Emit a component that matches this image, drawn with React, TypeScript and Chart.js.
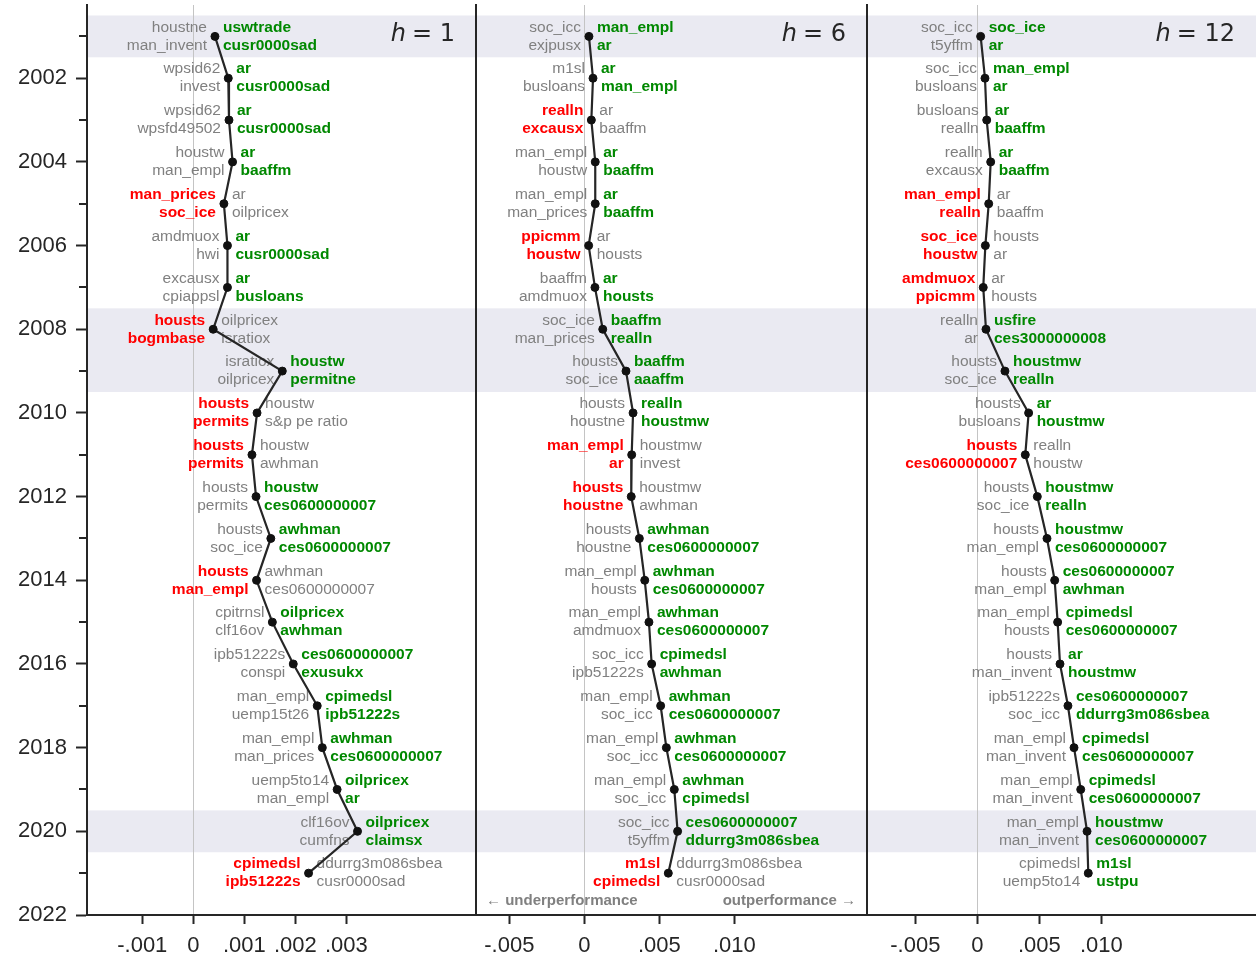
import React, { useEffect, useRef } from "react";
import { Chart, registerables } from "chart.js";

Chart.register(...registerables);

// ---------------- data ----------------
const years = [2001, 2002, 2003, 2004, 2005, 2006, 2007, 2008, 2009, 2010, 2011, 2012, 2013, 2014, 2015, 2016, 2017, 2018, 2019, 2020, 2021];
const yTickYears = [2001, 2002, 2003, 2004, 2005, 2006, 2007, 2008, 2009, 2010, 2011, 2012, 2013, 2014, 2015, 2016, 2017, 2018, 2019, 2020, 2021, 2022];
const yTickLabels = ["2002", "2004", "2006", "2008", "2010", "2012", "2014", "2016", "2018", "2020", "2022"];

const shadedStarts = [2000.5, 2007.5, 2019.5];
const shadedEnds = [2001.5, 2009.5, 2020.5];

// h = 1
const h1Values = [0.000425, 0.000686, 0.0007, 0.00077, 0.0006, 0.00067, 0.00067, 0.00039, 0.001745, 0.00125, 0.00115, 0.00123, 0.00152, 0.00124, 0.00155, 0.00196, 0.00243, 0.00253, 0.00282, 0.00322, 0.00226];
const h1LeftRed = [false, false, false, false, true, false, false, true, false, true, true, false, false, true, false, false, false, false, false, false, true];
const h1LeftTop = ["houstne", "wpsid62", "wpsid62", "houstw", "man_prices", "amdmuox", "excausx", "housts", "isratiox", "housts", "housts", "housts", "housts", "housts", "cpitrnsl", "ipb51222s", "man_empl", "man_empl", "uemp5to14", "clf16ov", "cpimedsl"];
const h1LeftBottom = ["man_invent", "invest", "wpsfd49502", "man_empl", "soc_ice", "hwi", "cpiappsl", "bogmbase", "oilpricex", "permits", "permits", "permits", "soc_ice", "man_empl", "clf16ov", "conspi", "uemp15t26", "man_prices", "man_empl", "cumfns", "ipb51222s"];
const h1RightTop = ["uswtrade", "ar", "ar", "ar", "ar", "ar", "ar", "oilpricex", "houstw", "houstw", "houstw", "houstw", "awhman", "awhman", "oilpricex", "ces0600000007", "cpimedsl", "awhman", "oilpricex", "oilpricex", "ddurrg3m086sbea"];
const h1RightBottom = ["cusr0000sad", "cusr0000sad", "cusr0000sad", "baaffm", "oilpricex", "cusr0000sad", "busloans", "isratiox", "permitne", "s&p pe ratio", "awhman", "ces0600000007", "ces0600000007", "ces0600000007", "awhman", "exusukx", "ipb51222s", "ces0600000007", "ar", "claimsx", "cusr0000sad"];
const h1XTicks = [-0.001, 0, 0.001, 0.002, 0.003];
const h1XTickLabels = ["-.001", "0", ".001", ".002", ".003"];

// h = 6
const h6Values = [0.00031, 0.00058, 0.00047, 0.00073, 0.00073, 0.00029, 0.00071, 0.00123, 0.00278, 0.00325, 0.00316, 0.00313, 0.00367, 0.00403, 0.00431, 0.00449, 0.00509, 0.00547, 0.006, 0.00622, 0.0056];
const h6LeftRed = [false, false, true, false, false, true, false, false, false, false, true, true, false, false, false, false, false, false, false, false, true];
const h6LeftTop = ["soc_icc", "m1sl", "realln", "man_empl", "man_empl", "ppicmm", "baaffm", "soc_ice", "housts", "housts", "man_empl", "housts", "housts", "man_empl", "man_empl", "soc_icc", "man_empl", "man_empl", "man_empl", "soc_icc", "m1sl"];
const h6LeftBottom = ["exjpusx", "busloans", "excausx", "houstw", "man_prices", "houstw", "amdmuox", "man_prices", "soc_ice", "houstne", "ar", "houstne", "houstne", "housts", "amdmuox", "ipb51222s", "soc_icc", "soc_icc", "soc_icc", "t5yffm", "cpimedsl"];
const h6RightTop = ["man_empl", "ar", "ar", "ar", "ar", "ar", "ar", "baaffm", "baaffm", "realln", "houstmw", "houstmw", "awhman", "awhman", "awhman", "cpimedsl", "awhman", "awhman", "awhman", "ces0600000007", "ddurrg3m086sbea"];
const h6RightBottom = ["ar", "man_empl", "baaffm", "baaffm", "baaffm", "housts", "housts", "realln", "aaaffm", "houstmw", "invest", "awhman", "ces0600000007", "ces0600000007", "ces0600000007", "awhman", "ces0600000007", "ces0600000007", "cpimedsl", "ddurrg3m086sbea", "cusr0000sad"];
const h6XTicks = [-0.005, 0, 0.005, 0.01];
const h6XTickLabels = ["-.005", "0", ".005", ".010"];

// h = 12
const h12Values = [0.00027, 0.00062, 0.00076, 0.00108, 0.00092, 0.00065, 0.00048, 0.0007, 0.00223, 0.00414, 0.00387, 0.00484, 0.00562, 0.00624, 0.00648, 0.00667, 0.00731, 0.0078, 0.00834, 0.00885, 0.00895];
const h12LeftRed = [false, false, false, false, true, true, true, false, false, false, true, false, false, false, false, false, false, false, false, false, false];
const h12LeftTop = ["soc_icc", "soc_icc", "busloans", "realln", "man_empl", "soc_ice", "amdmuox", "realln", "housts", "housts", "housts", "housts", "housts", "housts", "man_empl", "housts", "ipb51222s", "man_empl", "man_empl", "man_empl", "cpimedsl"];
const h12LeftBottom = ["t5yffm", "busloans", "realln", "excausx", "realln", "houstw", "ppicmm", "ar", "soc_ice", "busloans", "ces0600000007", "soc_ice", "man_empl", "man_empl", "housts", "man_invent", "soc_icc", "man_invent", "man_invent", "man_invent", "uemp5to14"];
const h12RightTop = ["soc_ice", "man_empl", "ar", "ar", "ar", "housts", "ar", "usfire", "houstmw", "ar", "realln", "houstmw", "houstmw", "ces0600000007", "cpimedsl", "ar", "ces0600000007", "cpimedsl", "cpimedsl", "houstmw", "m1sl"];
const h12RightBottom = ["ar", "ar", "baaffm", "baaffm", "baaffm", "ar", "housts", "ces3000000008", "realln", "houstmw", "houstw", "realln", "ces0600000007", "awhman", "ces0600000007", "houstmw", "ddurrg3m086sbea", "ces0600000007", "ces0600000007", "ces0600000007", "ustpu"];
const h12XTicks = [-0.005, 0, 0.005, 0.01];
const h12XTickLabels = ["-.005", "0", ".005", ".010"];

const panelTitles = ["1", "6", "12"];

// ---------------- styles ----------------
const W = 1256;
const H = 957;
const SANS = "'Liberation Sans', Arial, Helvetica, sans-serif";
const DARK = "#262626";
const GREY = "#808080";
const RED = "#ff0000";
const GREEN = "#008800";
const BAND = "#eaeaf2";

type Panel = {
  values: number[];
  leftRed: boolean[];
  leftTop: string[];
  leftBottom: string[];
  rightTop: string[];
  rightBottom: string[];
  xTicks: number[];
  xTickLabels: string[];
  xMin: number;
  xMax: number;
  left: number;
  right: number;
  title: string;
  showY: boolean;
  perfNote: boolean;
};

const panels: Panel[] = [
  { values: h1Values, leftRed: h1LeftRed, leftTop: h1LeftTop, leftBottom: h1LeftBottom, rightTop: h1RightTop, rightBottom: h1RightBottom, xTicks: h1XTicks, xTickLabels: h1XTickLabels, xMin: -0.002084, xMax: 0.005543, left: 87, right: 476, title: panelTitles[0], showY: true, perfNote: false },
  { values: h6Values, leftRed: h6LeftRed, leftTop: h6LeftTop, leftBottom: h6LeftBottom, rightTop: h6RightTop, rightBottom: h6RightBottom, xTicks: h6XTicks, xTickLabels: h6XTickLabels, xMin: -0.00722, xMax: 0.018847, left: 476, right: 867, title: panelTitles[1], showY: false, perfNote: true },
  { values: h12Values, leftRed: h12LeftRed, leftTop: h12LeftTop, leftBottom: h12LeftBottom, rightTop: h12RightTop, rightBottom: h12RightBottom, xTicks: h12XTicks, xTickLabels: h12XTickLabels, xMin: -0.008895, xMax: 0.022476, left: 867, right: 1256, title: panelTitles[2], showY: false, perfNote: false },
];

function makePlugin(p: Panel) {
  return {
    id: "decor",
    beforeDraw(chart: any) {
      const { ctx, chartArea } = chart;
      const y = chart.scales.y;
      ctx.save();
      ctx.fillStyle = BAND;
      for (let i = 0; i < shadedStarts.length; i++) {
        const y0 = y.getPixelForValue(shadedStarts[i]);
        const y1 = y.getPixelForValue(shadedEnds[i]);
        ctx.fillRect(chartArea.left, Math.min(y0, y1), chartArea.right - chartArea.left, Math.abs(y1 - y0));
      }
      ctx.restore();
    },
    beforeDatasetsDraw(chart: any) {
      const { ctx, chartArea } = chart;
      const meta = chart.getDatasetMeta(0);
      ctx.save();
      const fs = 15.5;
      meta.data.forEach((pt: any, i: number) => {
        const red = p.leftRed[i];
        ctx.textBaseline = "middle";
        ctx.textAlign = "right";
        ctx.font = red ? `bold ${fs}px ${SANS}` : `${fs}px ${SANS}`;
        ctx.fillStyle = red ? RED : GREY;
        ctx.fillText(p.leftTop[i], pt.x - 8, pt.y - 9);
        ctx.fillText(p.leftBottom[i], pt.x - 8, pt.y + 9);
        ctx.textAlign = "left";
        ctx.font = !red ? `bold ${fs}px ${SANS}` : `${fs}px ${SANS}`;
        ctx.fillStyle = !red ? GREEN : GREY;
        ctx.fillText(p.rightTop[i], pt.x + 8, pt.y - 9);
        ctx.fillText(p.rightBottom[i], pt.x + 8, pt.y + 9);
      });
      // title h = n
      ctx.fillStyle = DARK;
      ctx.textBaseline = "middle";
      ctx.textAlign = "left";
      const tf = 24;
      ctx.font = `${tf}px 'DejaVu Sans', sans-serif`;
      const rest = "= " + p.title;
      const restW = ctx.measureText(rest).width;
      ctx.font = `italic ${tf}px 'DejaVu Sans', sans-serif`;
      const hW = ctx.measureText("h").width;
      const xr = chartArea.right - 21;
      const x0 = xr - restW - hW - 6;
      ctx.fillText("h", x0, 35);
      ctx.font = `${tf}px 'DejaVu Sans', sans-serif`;
      ctx.fillText(rest, x0 + hW + 6, 35);
      if (p.perfNote) {
        ctx.fillStyle = GREY;
        ctx.font = `bold 15px ${SANS}`;
        ctx.textAlign = "left";
        ctx.fillText("\u2190 underperformance", chartArea.left + 10, 901);
        ctx.textAlign = "right";
        ctx.fillText("outperformance \u2192", chartArea.right - 11, 901);
      }
      ctx.restore();
    },
    afterDraw(chart: any) {
      if (!p.showY) return;
      const { ctx, chartArea } = chart;
      const y = chart.scales.y;
      ctx.save();
      ctx.strokeStyle = DARK;
      ctx.lineWidth = 2;
      yTickYears.forEach((yr) => {
        if (yr % 2 === 1) {
          const py = Math.round(y.getPixelForValue(yr));
          ctx.beginPath();
          ctx.moveTo(chartArea.left - 8, py);
          ctx.lineTo(chartArea.left, py);
          ctx.stroke();
        }
      });
      ctx.restore();
    },
  };
}

function zeroPad(s: any) {
  s.paddingTop = 0;
  s.paddingBottom = 0;
  s.paddingLeft = 0;
  s.paddingRight = 0;
}

function makeConfig(p: Panel): any {
  const yLabelFor = (v: number) => {
    const s = String(v);
    return yTickLabels.indexOf(s) >= 0 ? s : "";
  };
  return {
    type: "scatter",
    data: {
      datasets: [
        {
          data: p.values.map((v, i) => ({ x: v, y: years[i] })),
          showLine: true,
          borderColor: DARK,
          borderWidth: 2.2,
          pointRadius: 4,
          pointBorderWidth: 1,
          pointBackgroundColor: "#111111",
          pointBorderColor: "#111111",
          tension: 0,
        },
      ],
    },
    options: {
      animation: false,
      responsive: false,
      maintainAspectRatio: false,
      devicePixelRatio: 1,
      layout: { autoPadding: false, padding: { left: p.showY ? 0 : p.left, right: W - p.right, top: 5, bottom: 0 } },
      plugins: { legend: { display: false }, tooltip: { enabled: false } },
      scales: {
        x: {
          type: "linear",
          position: "bottom",
          min: p.xMin,
          max: p.xMax,
          afterBuildTicks: (s: any) => {
            s.ticks = p.xTicks.map((v) => ({ value: v }));
          },
          afterFit: (s: any) => {
            s.height = 42;
            zeroPad(s);
          },
          ticks: {
            autoSkip: false,
            maxRotation: 0,
            padding: 9,
            color: DARK,
            font: { size: 22, family: SANS },
            callback: (v: number) => {
              const i = p.xTicks.findIndex((t) => Math.abs(t - v) < 1e-9);
              return i >= 0 ? p.xTickLabels[i] : "";
            },
          },
          grid: {
            drawOnChartArea: true,
            color: (ctx: any) => (ctx.tick && Math.abs(ctx.tick.value) < 1e-12 ? "#c4c4c4" : "rgba(0,0,0,0)"),
            lineWidth: 1,
            tickColor: DARK,
            tickWidth: 2,
            tickLength: 9,
          },
          border: { display: true, color: DARK, width: 2 },
        },
        y: {
          type: "linear",
          position: "left",
          reverse: true,
          min: 2000.25,
          max: 2022,
          afterBuildTicks: (s: any) => {
            s.ticks = yTickYears.map((v) => ({ value: v }));
          },
          afterFit: (s: any) => {
            s.width = p.showY ? p.left : 0;
            zeroPad(s);
          },
          ticks: {
            display: p.showY,
            autoSkip: false,
            padding: 9,
            color: DARK,
            font: { size: 22, family: SANS },
            callback: (v: number) => yLabelFor(v),
          },
          grid: {
            display: p.showY,
            drawOnChartArea: false,
            drawTicks: p.showY,
            tickLength: 11,
            tickWidth: 2,
            tickColor: (ctx: any) => (ctx.tick && ctx.tick.value % 2 === 0 ? DARK : "rgba(0,0,0,0)"),
          },
          border: { display: true, color: DARK, width: 2 },
        },
      },
    },
    plugins: [makePlugin(p)],
  };
}

function PanelChart({ p }: { p: Panel }) {
  const ref = useRef<HTMLCanvasElement | null>(null);
  useEffect(() => {
    if (!ref.current) return;
    const chart = new Chart(ref.current, makeConfig(p));
    return () => chart.destroy();
  }, [p]);
  return <canvas ref={ref} width={W} height={H} style={{ position: "absolute", left: 0, top: 0, width: W, height: H }} />;
}

export default function App() {
  return (
    <div style={{ position: "absolute", left: 0, top: 0, width: W, height: H, background: "#ffffff" }}>
      {panels.map((p, i) => (
        <PanelChart key={i} p={p} />
      ))}
    </div>
  );
}
